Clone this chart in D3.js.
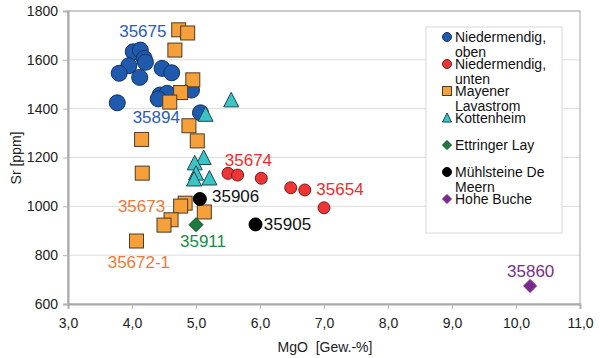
<!DOCTYPE html>
<html>
<head>
<meta charset="utf-8">
<script src="https://cdn.jsdelivr.net/npm/d3@7"></script>
<style>
  body { margin: 0; background: #fff; }
  svg { font-family: "Liberation Sans", Arial, sans-serif; }
</style>
</head>
<body>
<div id="chart"></div>
<script>
// Data: MgO [Gew.-%] and Sr [ppm] per group
var obenMgO = [4.02, 4.13, 4.19, 4.21, 3.95, 3.80, 4.12, 4.47, 4.62, 3.77, 4.44, 4.55, 4.93, 5.07, 4.41];
var obenSr  = [1633, 1640, 1606, 1590, 1576, 1545, 1528, 1565, 1547, 1424, 1456, 1463, 1476, 1383, 1440];

var untenMgO = [5.50, 5.65, 6.02, 6.48, 6.70, 7.00];
var untenSr  = [1135, 1128, 1115, 1076, 1067, 994];

var mayenMgO = [4.73, 4.87, 4.67, 4.95, 4.76, 4.59, 4.89, 5.02, 4.15, 4.16, 4.83, 4.76, 5.13, 4.61, 4.50, 4.07];
var mayenSr  = [1723, 1710, 1640, 1518, 1466, 1427, 1330, 1268, 1274, 1136, 1013, 1001, 977, 945, 923, 858];

var kottMgO = [5.55, 5.15, 5.12, 4.98, 5.00, 4.97, 5.21];
var kottSr  = [1435, 1376, 1199, 1177, 1135, 1111, 1115];

var ettMgO = [5.00];
var ettSr  = [925];

var muehlMgO = [5.06, 5.93];
var muehlSr  = [1030, 926];

var hoheMgO = [10.22];
var hoheSr  = [674];

var legendNames = [["Niedermendig,", "oben"], ["Niedermendig,", "unten"], ["Mayener", "Lavastrom"],
                   ["Kottenheim"], ["Ettringer Lay"], ["Mühlsteine De", "Meern"], ["Hohe Buche"]];

// sample labels, anchored at data coordinates
var labelText = ["35675", "35894", "35674", "35654", "35906", "35905", "35911", "35673", "35672-1", "35860"];
var labelMgO  = [3.80, 4.01, 5.45, 6.88, 5.25, 6.06, 4.75, 3.78, 3.62, 9.86];
var labelSr   = [1718, 1366, 1190, 1071, 1042, 928, 858, 1001, 772, 735];
var labelGroup = [0, 0, 1, 1, 5, 5, 4, 2, 2, 6];

var xTicks = [3, 4, 5, 6, 7, 8, 9, 10, 11];
var yTicks = [600, 800, 1000, 1200, 1400, 1600, 1800];

var width = 600, height = 358;
var plotLeft = 68, plotRight = 580, plotTop = 11, plotBottom = 304;

var svg = d3.select('#chart').append('svg')
    .attr('width', width)
    .attr('height', height);

var x = d3.scaleLinear().domain([3, 11]).range([plotLeft, plotRight]);
var y = d3.scaleLinear().domain([600, 1800]).range([plotBottom, plotTop]);

// grid lines
svg.append('g').selectAll('line')
    .data(yTicks.slice(1))
    .enter().append('line')
    .attr('x1', plotLeft).attr('x2', plotRight)
    .attr('y1', function(d) { return y(d); })
    .attr('y2', function(d) { return y(d); })
    .attr('stroke', '#dcdcdc')
    .attr('stroke-width', 1);

// plot frame
svg.append('rect')
    .attr('x', plotLeft).attr('y', plotTop)
    .attr('width', plotRight - plotLeft).attr('height', plotBottom - plotTop)
    .attr('fill', 'none')
    .attr('stroke', '#b4b4b4')
    .attr('stroke-width', 1.2);

// axes
var xAxis = svg.append('g')
    .attr('transform', 'translate(0,' + plotBottom + ')')
    .call(d3.axisBottom(x).tickValues(xTicks).tickSize(5).tickPadding(9)
        .tickFormat(function(d) { return d3.format('.1f')(d).replace('.', ','); }));
var yAxis = svg.append('g')
    .attr('transform', 'translate(' + plotLeft + ',0)')
    .call(d3.axisLeft(y).tickValues(yTicks).tickSize(5).tickPadding(5)
        .tickFormat(d3.format('d')));

[xAxis, yAxis].forEach(function(a) {
    a.select('.domain').attr('stroke', '#a8a8a8').attr('stroke-width', 2);
    a.selectAll('.tick line').attr('stroke', '#b4b4b4');
    a.selectAll('.tick text')
        .attr('fill', '#222')
        .style('font-size', '14px')
        .style('font-family', '"Liberation Sans", Arial, sans-serif');
});

// axis titles
svg.append('text')
    .attr('x', 325).attr('y', 352)
    .attr('text-anchor', 'middle')
    .style('font-size', '14px')
    .attr('fill', '#222')
    .attr('xml:space', 'preserve')
    .text('MgO  [Gew.-%]');

svg.append('text')
    .attr('transform', 'translate(21,158) rotate(-90)')
    .attr('text-anchor', 'middle')
    .style('font-size', '14px')
    .attr('fill', '#222')
    .text('Sr [ppm]');

// series styles
var groups = [
    { mgo: obenMgO, sr: obenSr, shape: 'circle', size: 8, fill: '#1f5aae', stroke: '#12325e', label: '#2a5cb8' },
    { mgo: untenMgO, sr: untenSr, shape: 'circle', size: 6, fill: '#ee3535', stroke: '#7a1a1a', label: '#ee2c2c' },
    { mgo: mayenMgO, sr: mayenSr, shape: 'square', size: 14, fill: '#f6a03a', stroke: '#4a3a2a', label: '#f07838' },
    { mgo: kottMgO, sr: kottSr, shape: 'triangle', size: 15, fill: '#3cc4c4', stroke: '#1a4656', label: '#3cc4c4' },
    { mgo: ettMgO, sr: ettSr, shape: 'diamond', size: 14, fill: '#1e7a3e', stroke: '#0e4a22', label: '#1a8a48' },
    { mgo: muehlMgO, sr: muehlSr, shape: 'circle', size: 6.5, fill: '#000', stroke: '#000', label: '#111' },
    { mgo: hoheMgO, sr: hoheSr, shape: 'diamond', size: 13, fill: '#7a2a8c', stroke: '#7a2a8c', label: '#7a2e8a' }
];

function drawMarker(g, shape, s, fill, stroke) {
    if (shape === 'circle') {
        g.append('circle').attr('r', s);
    } else if (shape === 'square') {
        g.append('rect').attr('x', -s / 2).attr('y', -s / 2).attr('width', s).attr('height', s);
    } else if (shape === 'triangle') {
        var h = s * 0.9;
        g.append('path').attr('d', 'M0,' + (-h / 2 - 1) + 'L' + (s / 2) + ',' + (h / 2) + 'L' + (-s / 2) + ',' + (h / 2) + 'Z');
    } else {
        g.append('path').attr('d', 'M0,' + (-s / 2) + 'L' + (s / 2) + ',0L0,' + (s / 2) + 'L' + (-s / 2) + ',0Z');
    }
    g.selectAll('*').attr('fill', fill).attr('stroke', stroke).attr('stroke-width', 1);
}

groups.forEach(function(grp) {
    var pts = grp.mgo.map(function(m, i) { return [m, grp.sr[i]]; });
    svg.append('g').selectAll('g')
        .data(pts)
        .enter().append('g')
        .attr('transform', function(d) { return 'translate(' + x(d[0]) + ',' + y(d[1]) + ')'; })
        .each(function() { drawMarker(d3.select(this), grp.shape, grp.size, grp.fill, grp.stroke); });
});

// sample labels
svg.append('g').selectAll('text')
    .data(labelText)
    .enter().append('text')
    .attr('x', function(d, i) { return x(labelMgO[i]); })
    .attr('y', function(d, i) { return y(labelSr[i]); })
    .attr('dy', '0.35em')
    .style('font-size', '17px')
    .attr('fill', function(d, i) { return groups[labelGroup[i]].label; })
    .text(function(d) { return d; });

// legend
var legend = svg.append('g');
legend.append('rect')
    .attr('x', 426).attr('y', 27)
    .attr('width', 136).attr('height', 206)
    .attr('fill', '#fff')
    .attr('stroke', '#d8d8d8');

var legendSizes = [4.5, 4.5, 9, 9, 9, 4.5, 9];
legendNames.forEach(function(lines, i) {
    var ly = 37 + i * 27;
    var g = legend.append('g').attr('transform', 'translate(447,' + ly + ')');
    drawMarker(g, groups[i].shape, legendSizes[i], groups[i].fill, groups[i].stroke);
    var t = legend.append('text')
        .attr('x', 455).attr('y', ly)
        .style('font-size', '14px')
        .attr('fill', '#111');
    lines.forEach(function(line, j) {
        t.append('tspan').attr('x', 455).attr('dy', j === 0 ? '0.35em' : '15px').text(line);
    });
});
</script>
</body>
</html>
